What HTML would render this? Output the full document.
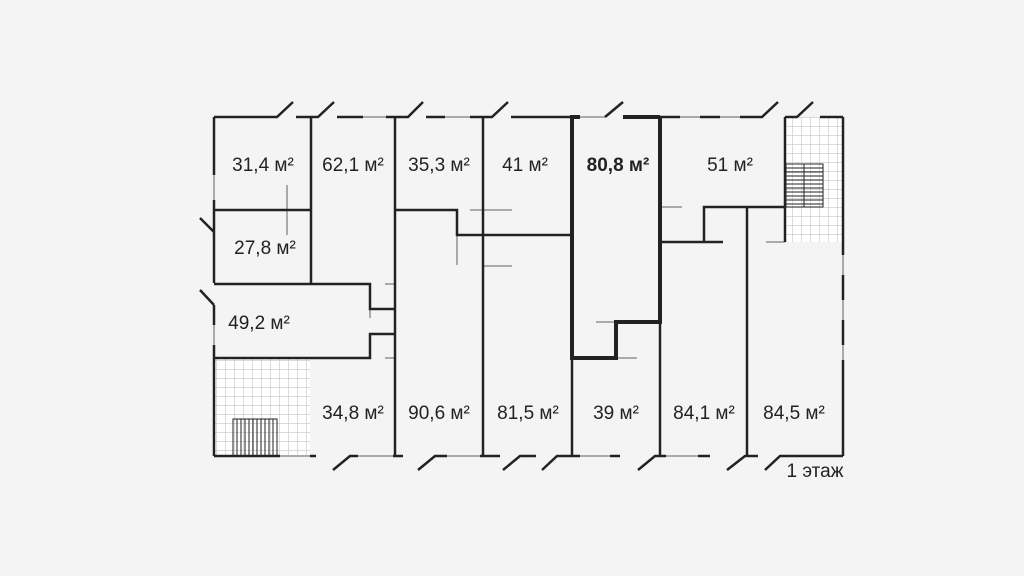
<!DOCTYPE html>
<html><head><meta charset="utf-8"><style>
html,body{margin:0;padding:0;background:#f4f4f5;}
svg{display:block}
text{font-family:"Liberation Sans",sans-serif;font-size:19px;fill:#222;text-anchor:middle}
</style></head><body>
<svg width="1024" height="576" viewBox="0 0 1024 576" xmlns="http://www.w3.org/2000/svg">
<defs>
<pattern id="g" width="9" height="9" patternUnits="userSpaceOnUse">
<rect width="9" height="9" fill="#fff"/>
<path d="M0 0H9M0 0V9" stroke="#c4c4c4" stroke-width="1.2"/>
</pattern>
</defs>
<rect width="1024" height="576" fill="#f4f4f5"/>
<rect x="214" y="358" width="96" height="98" fill="url(#g)"/>
<rect x="785" y="117" width="58" height="125" fill="url(#g)"/>
<g stroke="#222" stroke-width="1" fill="none">
<rect x="233" y="419" width="44" height="37"/>
<path d="M237 419V456M241 419V456M245 419V456M249 419V456M253 419V456M257 419V456M261 419V456M265 419V456M269 419V456M273 419V456"/>
<rect x="786" y="164" width="37" height="43"/>
<path d="M804 164V207M786 168H823M786 172H823M786 176H823M786 180H823M786 184H823M786 188H823M786 192H823M786 196H823M786 200H823M786 204H823"/>
</g>
<g stroke="#aaa" stroke-width="2" fill="none">
<path d="M214 175V200M214 325V345M280 456H310M358 456H393M447 456H480M580 456H610M666 456H698M363 117H386M445 117H470M580 117H605M680 117H700M720 117H740M843 255V275M843 300V320M843 345V360"/>
<path d="M287 185V235M470 210H512M484 266H512M385 284H395M385 358H395M457 235V265M596 322H616M616 358H637M660 207H682M766 242H785M370 309V318"/>
</g>
<g stroke="#222" stroke-width="2.5" fill="none" stroke-linecap="butt">
<path d="M214 117H277L293 102M296 117H318L334 102M337 117H363M386 117H408L423 102M426 117H445M470 117H492L508 102M511 117H530"/>
<path d="M530 117H570"/>
<path d="M660 117H680M700 117H720M740 117H762L778 102M785 117H797L813 102M820 117H843"/>
<path d="M214 117V175M214 200V210M200 290L214 305"/>
<path d="M214 210V283M200 218L214 232M214 305V325M214 345V456"/>
<path d="M214 210H311M311 117V284M214 284H370V309H395M214 358H370V334H395"/>
<path d="M395 117V456M483 117V456M395 210H457V235H572"/>
<path d="M572 358V456M660 322V456M747 207V456M704 242V207H785M660 242H723"/>
<path d="M785 117V242M843 117V255M843 275V300M843 320V345M843 360V456"/>
<path d="M214 456H280M310 456H316M333 470L350 456H358M393 456H403M418 470L435 456H447M480 456H500M503 470L520 456H536M542 470L557 456H580M610 456H620M638 470L655 456H666M698 456H710M727 470L745 456H758M765 470L780 456H843"/>
</g>
<g stroke="#222" stroke-width="4" fill="none">
<path d="M572 117V358H616V322H660V117M570 117H580M623 117H660"/>
</g>
<path d="M605 117L623 102" stroke="#222" stroke-width="2.5"/>
<text x="263" y="171">31,4 м²</text>
<text x="353" y="171">62,1 м²</text>
<text x="439" y="171">35,3 м²</text>
<text x="525" y="171">41 м²</text>
<text x="618" y="171" style="font-weight:bold">80,8 м²</text>
<text x="730" y="171">51 м²</text>
<text x="265" y="254">27,8 м²</text>
<text x="259" y="329">49,2 м²</text>
<text x="353" y="419">34,8 м²</text>
<text x="439" y="419">90,6 м²</text>
<text x="528" y="419">81,5 м²</text>
<text x="616" y="419">39 м²</text>
<text x="704" y="419">84,1 м²</text>
<text x="794" y="419">84,5 м²</text>
<text x="815" y="477">1 этаж</text>
</svg>
</body></html>
